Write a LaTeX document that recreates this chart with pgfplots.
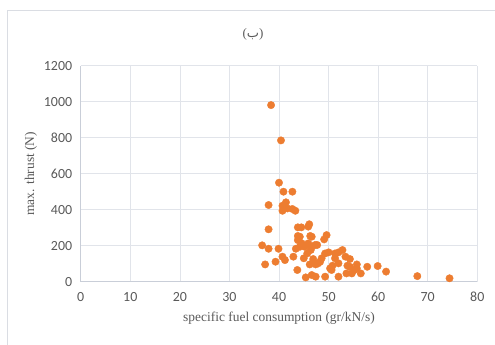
\documentclass[border=0pt]{standalone}
\usepackage{pgfplots}
\pgfplotsset{compat=1.18}
\usepackage{fontspec}
\setmainfont{Liberation Serif}
\newfontfamily\tickfont{Carlito}
\newfontfamily\arabicfont[Script=Arabic]{DejaVu Sans}
\definecolor{excelorange}{HTML}{ED7D31}
\definecolor{txtgray}{HTML}{595959}
\definecolor{gridgray}{HTML}{E1E4EA}
\definecolor{axisgray}{HTML}{C9CED8}
\definecolor{framegray}{HTML}{DADDE3}
\pgfplotstableread{
x y
38.4 981
40.4 785
40.0 550
40.9 500
42.7 500
37.9 426
40.7 422
41.4 441
40.7 394
41.7 407
42.7 404
43.3 394
37.9 291
43.8 302
44.5 302
45.9 306
46.1 319
43.8 254
43.8 231
44.2 250
46.3 254
46.6 250
49.6 259
49.1 235
36.6 202
37.9 183
39.9 183
43.4 183
44.2 194
44.6 213
45.2 194
45.9 213
46.6 194
47.3 204
47.7 204
46.4 176
45.7 157
50.0 163
49.3 157
51.3 157
52.0 163
52.8 176
53.4 139
54.3 126
51.3 130
40.7 139
41.2 120
42.9 139
45.0 130
46.9 126
46.9 111
48.3 111
48.6 130
39.3 111
37.2 96
46.2 96
47.4 96
47.9 102
50.8 89
50.3 74
50.6 65
52.0 102
53.8 89
54.3 83
55.7 96
55.7 74
55.2 65
57.8 83
59.9 87
61.6 56
53.6 46
54.7 46
56.5 46
43.7 65
45.4 24
46.6 37
47.4 28
49.3 28
52.0 28
67.9 31
74.4 19
}\datatable
\begin{document}
\begin{tikzpicture}
\useasboundingbox (0,0) rectangle (495bp,345bp);
\draw[framegray, line width=0.8bp] (7bp,0) -- (7bp,335bp) -- (495bp,335bp);
\node[txtgray, font=\fontsize{13}{15}\selectfont] at (253bp,311bp) {({\arabicfont ب})};
\begin{axis}[
  at={(80.7bp,63.3bp)}, anchor=south west,
  scale only axis, width=396.6bp, height=216bp,
  xmin=0, xmax=80, ymin=0, ymax=1200,
  xtick={0,10,...,80}, ytick={0,200,...,1200},
  grid=major,
  major grid style={gridgray, line width=0.7bp},
  axis line style={axisgray, line width=0.8bp},
  axis x line*=bottom, axis y line*=left,
  tick style={draw=none},
  ticklabel style={txtgray, font=\tickfont\fontsize{14}{16}\selectfont},
  /pgf/number format/assume math mode=true,
  /pgf/number format/1000 sep={},
  xticklabel style={yshift=-7bp},
  yticklabel style={xshift=-5bp},
  xlabel={specific fuel consumption (gr/kN/s)},
  ylabel={max. thrust (N)},
  label style={txtgray, font=\fontsize{13.5}{16}\selectfont},
  xlabel style={yshift=-3bp},
  ylabel style={yshift=0bp},
  clip=false,
]
\addplot[only marks, mark=*, mark size=3.7bp, mark options={fill=excelorange, draw=excelorange}] table[x=x,y=y] {\datatable};
\end{axis}
\end{tikzpicture}
\end{document}
